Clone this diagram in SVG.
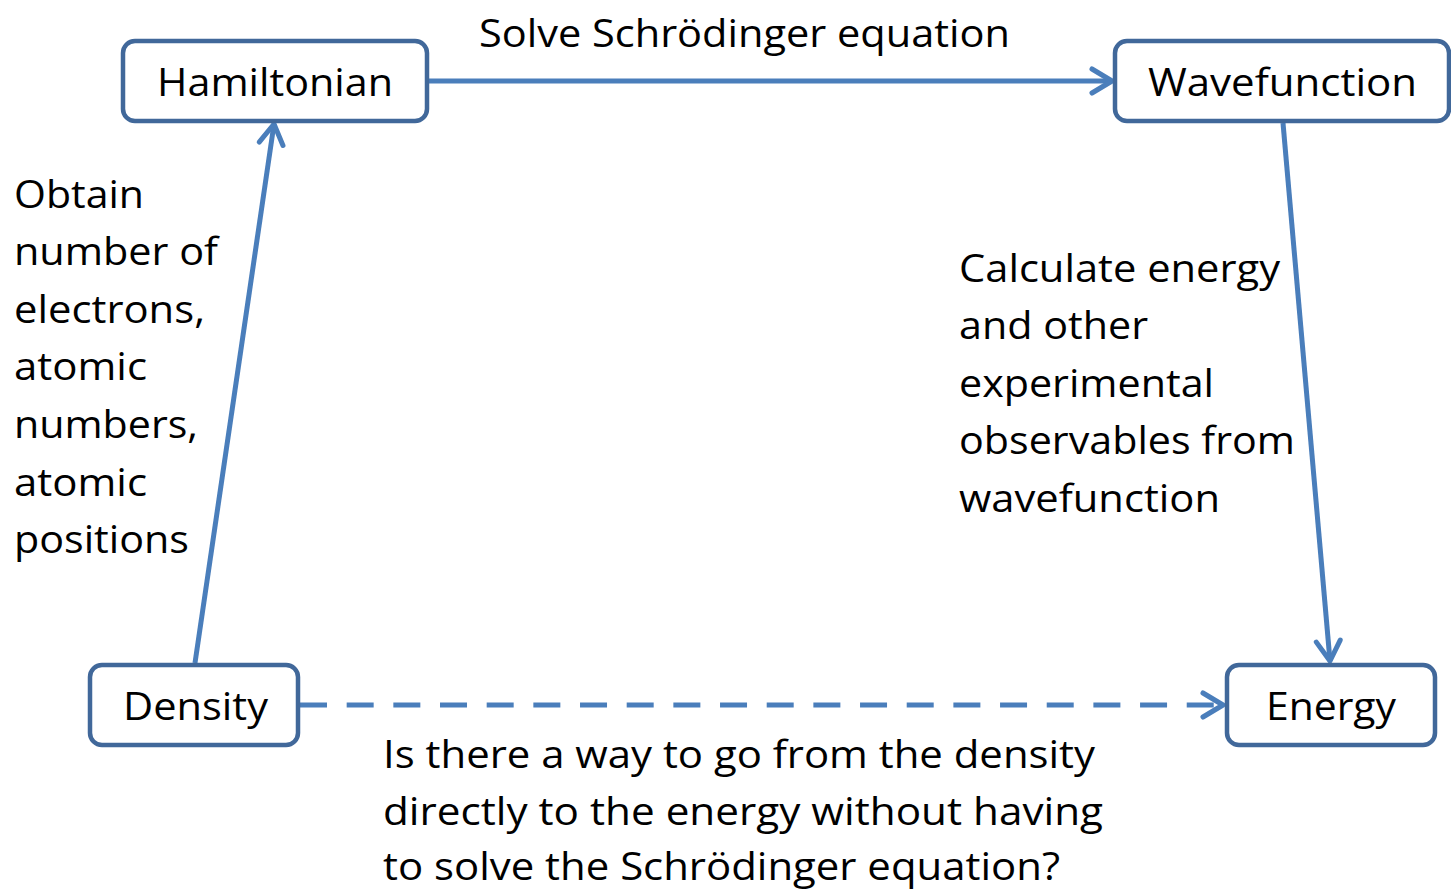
<svg xmlns="http://www.w3.org/2000/svg" width="1451" height="889" viewBox="0 0 1451 889">
<defs>
<style>
.box{fill:#fff;stroke:#41689a;stroke-width:4.5}
.t{font-family:"Open Sans","Liberation Sans",sans-serif;font-size:39px;fill:#000}
.c{stroke:#4a7ebb;stroke-width:5;fill:none}
.dash{stroke-dasharray:27 19.67}
</style>
<marker id="ah" markerUnits="userSpaceOnUse" orient="auto" markerWidth="40" markerHeight="40" refX="0" refY="0" viewBox="-25 -20 30 40" overflow="visible">
<path d="M -20 -12 L 0 0 L -20 12" fill="none" stroke="#4a7ebb" stroke-width="5" stroke-linecap="round" stroke-linejoin="round"/>
</marker>
</defs>
<rect width="1451" height="889" fill="#fff"/>
<g id="connectors">
<line class="c" x1="428" y1="81" x2="1112" y2="81" marker-end="url(#ah)"/>
<line class="c" x1="195" y1="663" x2="274" y2="124" marker-end="url(#ah)"/>
<line class="c" x1="1283" y1="123" x2="1330" y2="661" marker-end="url(#ah)"/>
<line class="c dash" x1="300" y1="705" x2="1223" y2="705"/>
<path d="M 1203 693 L 1223 705 L 1203 717" fill="none" stroke="#4a7ebb" stroke-width="5" stroke-linecap="round" stroke-linejoin="round"/>
</g>
<g id="labels">
<text class="t" x="479" y="47" textLength="531" lengthAdjust="spacingAndGlyphs">Solve Schrödinger equation</text>
<text class="t" x="14" y="208" textLength="130" lengthAdjust="spacingAndGlyphs">Obtain</text>
<text class="t" x="14" y="265" textLength="204" lengthAdjust="spacingAndGlyphs">number of</text>
<text class="t" x="14" y="323" textLength="191" lengthAdjust="spacingAndGlyphs">electrons,</text>
<text class="t" x="14" y="380" textLength="133" lengthAdjust="spacingAndGlyphs">atomic</text>
<text class="t" x="14" y="438" textLength="184" lengthAdjust="spacingAndGlyphs">numbers,</text>
<text class="t" x="14" y="496" textLength="133" lengthAdjust="spacingAndGlyphs">atomic</text>
<text class="t" x="14" y="553" textLength="175" lengthAdjust="spacingAndGlyphs">positions</text>
<text class="t" x="959" y="282" textLength="321" lengthAdjust="spacingAndGlyphs">Calculate energy</text>
<text class="t" x="959" y="339" textLength="189" lengthAdjust="spacingAndGlyphs">and other</text>
<text class="t" x="959" y="397" textLength="255" lengthAdjust="spacingAndGlyphs">experimental</text>
<text class="t" x="959" y="454" textLength="336" lengthAdjust="spacingAndGlyphs">observables from</text>
<text class="t" x="959" y="512" textLength="261" lengthAdjust="spacingAndGlyphs">wavefunction</text>
<text class="t" x="383" y="768" textLength="712" lengthAdjust="spacingAndGlyphs">Is there a way to go from the density</text>
<text class="t" x="383" y="825" textLength="720" lengthAdjust="spacingAndGlyphs">directly to the energy without having</text>
<text class="t" x="383" y="880" textLength="677" lengthAdjust="spacingAndGlyphs">to solve the Schrödinger equation?</text>
</g>
<g id="hamiltonian">
<rect class="box" x="123" y="41" width="304" height="80" rx="12"/>
<text class="t" x="157" y="96" textLength="236" lengthAdjust="spacingAndGlyphs">Hamiltonian</text>
</g>
<g id="wavefunction">
<rect class="box" x="1115" y="41" width="334" height="80" rx="12"/>
<text class="t" x="1148" y="96" textLength="269" lengthAdjust="spacingAndGlyphs">Wavefunction</text>
</g>
<g id="density">
<rect class="box" x="90" y="665" width="208" height="80" rx="12"/>
<text class="t" x="123" y="720" textLength="145" lengthAdjust="spacingAndGlyphs">Density</text>
</g>
<g id="energy">
<rect class="box" x="1227" y="665" width="208" height="80" rx="12"/>
<text class="t" x="1266" y="720" textLength="130" lengthAdjust="spacingAndGlyphs">Energy</text>
</g>
</svg>
